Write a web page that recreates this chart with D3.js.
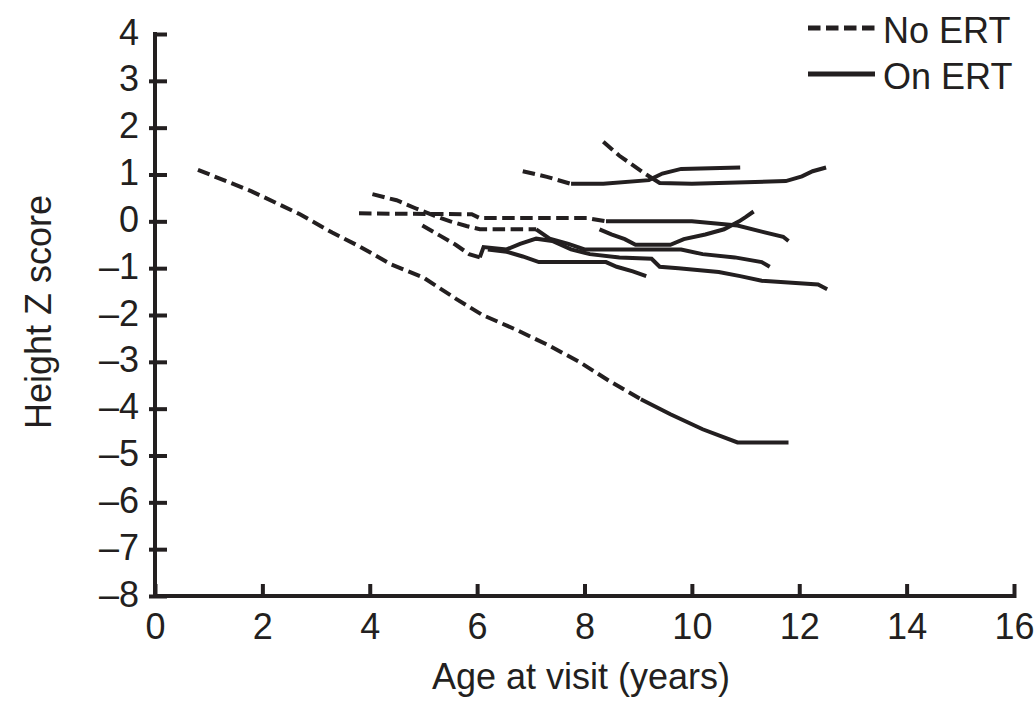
<!DOCTYPE html>
<html>
<head>
<meta charset="utf-8">
<script src="https://cdn.jsdelivr.net/npm/d3@7"></script>
<style>
    body { margin: 0; background: #fff; }
    text { font-family: "Liberation Sans", Arial, sans-serif; fill: #231f20; }
</style>
</head>
<body>
<svg width="1035" height="702"></svg>
<script>
// visits per patient: [age (years), height Z score]
let p1 = [[0.8, 1.1], [1.8, 0.64], [2.7, 0.15], [3.3, -0.24], [3.8, -0.53], [4.4, -0.92], [5.0, -1.2], [5.6, -1.65], [6.1, -2.0], [6.7, -2.3], [7.3, -2.63], [7.9, -3.0], [8.45, -3.4], [9.05, -3.8], [9.6, -4.12], [10.2, -4.44], [10.85, -4.72], [11.8, -4.72]]
let p2 = [[8.35, 1.7], [8.65, 1.4], [8.9, 1.2], [9.15, 1.0], [9.4, 0.82], [10.0, 0.8], [11.75, 0.86], [12.05, 0.96], [12.25, 1.07], [12.5, 1.15]]
let p3 = [[6.85, 1.07], [7.3, 0.95], [7.75, 0.8], [8.35, 0.8], [9.2, 0.88], [9.45, 1.02], [9.8, 1.12], [10.9, 1.15]]
let p4 = [[3.8, 0.17], [5.9, 0.15], [6.05, 0.07], [8.05, 0.07], [8.4, 0.0], [10.0, 0.0], [10.85, -0.09], [11.3, -0.22], [11.7, -0.33], [11.8, -0.42]]
let p5 = [[4.05, 0.58], [4.5, 0.45], [4.85, 0.28], [5.2, 0.12], [5.5, 0.0], [5.8, -0.1], [6.05, -0.17], [7.1, -0.17], [7.35, -0.37], [7.7, -0.48], [8.0, -0.6], [9.8, -0.6], [10.2, -0.7], [10.8, -0.77], [11.3, -0.87], [11.45, -0.97]]
let p6 = [[4.98, -0.09], [5.3, -0.3], [5.6, -0.5], [5.85, -0.7], [6.05, -0.77], [6.12, -0.55], [6.55, -0.6], [6.8, -0.48], [7.1, -0.37], [7.4, -0.42], [7.75, -0.6], [8.1, -0.7], [8.65, -0.77], [9.25, -0.8], [9.4, -0.97], [9.75, -1.0], [10.5, -1.08], [10.9, -1.17], [11.3, -1.27], [12.35, -1.35], [12.52, -1.45]]
let p7 = [[6.2, -0.6], [6.55, -0.65], [6.85, -0.75], [7.15, -0.87], [8.4, -0.87], [8.6, -0.97], [8.9, -1.07], [9.15, -1.17]]
let p8 = [[8.28, -0.17], [8.5, -0.28], [8.75, -0.38], [8.95, -0.5], [9.6, -0.5], [9.85, -0.38], [10.25, -0.28], [10.6, -0.17], [10.88, 0.0], [11.0, 0.09], [11.15, 0.21]]

let patients = [p1, p2, p3, p4, p5, p6, p7, p8]
// index of the first visit on ERT (dashed before it, solid from it)
let ertStart = [13, 3, 2, 4, 7, 4, 0, 0]

let xTicks = [0, 2, 4, 6, 8, 10, 12, 14, 16]
let yTicks = [-8, -7, -6, -5, -4, -3, -2, -1, 0, 1, 2, 3, 4]
let yTickLabels = ['–8', '–7', '–6', '–5', '–4', '–3', '–2', '–1', '0', '1', '2', '3', '4']
let legendLabels = ['No ERT', 'On ERT']

let ink = '#231f20'
let dash = '12.5,5.5'

let svg = d3.select('svg')

let scale = {
    x: d3.scaleLinear().domain([0, 16]).range([155, 1014]),
    y: d3.scaleLinear().domain([-8, 4]).range([596, 34])
}

let axis = {
    x: d3.axisBottom(scale.x).tickValues(xTicks).tickSizeInner(-12).tickSizeOuter(0).tickPadding(17),
    y: d3.axisLeft(scale.y).tickValues(yTicks).tickSizeInner(-12).tickSizeOuter(0).tickPadding(16)
        .tickFormat((d, i) => yTickLabels[i])
}

// X axis
svg.append('g')
    .attr('transform', `translate(0,${scale.y(-8)})`)
    .call(axis.x)
    .call(g => g.select('.domain').remove())
    .call(g => g.selectAll('.tick line').attr('y1', 2).attr('stroke', ink).attr('stroke-width', 4))
    .call(g => g.selectAll('.tick text').attr('font-size', 36).attr('font-family', null).attr('fill', ink))

// Y axis
svg.append('g')
    .attr('transform', `translate(${scale.x(0)},0)`)
    .call(axis.y)
    .call(g => g.select('.domain').remove())
    .call(g => g.selectAll('.tick line').attr('x1', d => d == 4 ? 0 : -6).attr('stroke', ink).attr('stroke-width', 4))
    .call(g => g.selectAll('.tick text').attr('font-size', 36).attr('font-family', null).attr('fill', ink).attr('dy', '0.28em'))

// axis frame
svg.append('path')
    .attr('d', `M${scale.x(0)},${scale.y(4)} V${scale.y(-8)} H${scale.x(16)}`)
    .attr('fill', 'none')
    .attr('stroke', ink)
    .attr('stroke-width', 4)
    .attr('stroke-linecap', 'square')

// X label
svg.append('text')
    .attr('x', 581)
    .attr('y', 689)
    .attr('text-anchor', 'middle')
    .attr('font-size', 36)
    .text('Age at visit (years)')

// Y label
svg.append('text')
    .attr('x', -312)
    .attr('y', 51)
    .attr('text-anchor', 'middle')
    .attr('transform', 'rotate(270)')
    .attr('font-size', 36)
    .text('Height Z score')

let line = d3.line()
    .x(d => scale.x(d[0]))
    .y(d => scale.y(d[1]))

let g = svg.append('g')
    .attr('fill', 'none')
    .attr('stroke', ink)
    .attr('stroke-width', 4)

patients.forEach((p, i) => {
    let k = ertStart[i]
    if (k > 0) {
        g.append('path')
            .attr('d', line(p.slice(0, k + 1)))
            .attr('stroke-dasharray', dash)
    }
    g.append('path')
        .attr('d', line(p.slice(k)))
})

// legend
let legend = svg.append('g')
legendLabels.forEach((label, i) => {
    let y = 28 + i * 46
    legend.append('line')
        .attr('x1', 808).attr('x2', 875)
        .attr('y1', y).attr('y2', y)
        .attr('stroke', ink)
        .attr('stroke-width', 5)
        .attr('stroke-dasharray', i == 0 ? dash : null)
    legend.append('text')
        .attr('x', 883)
        .attr('y', y + 15)
        .attr('font-size', 36)
        .text(label)
})
</script>
</body>
</html>
